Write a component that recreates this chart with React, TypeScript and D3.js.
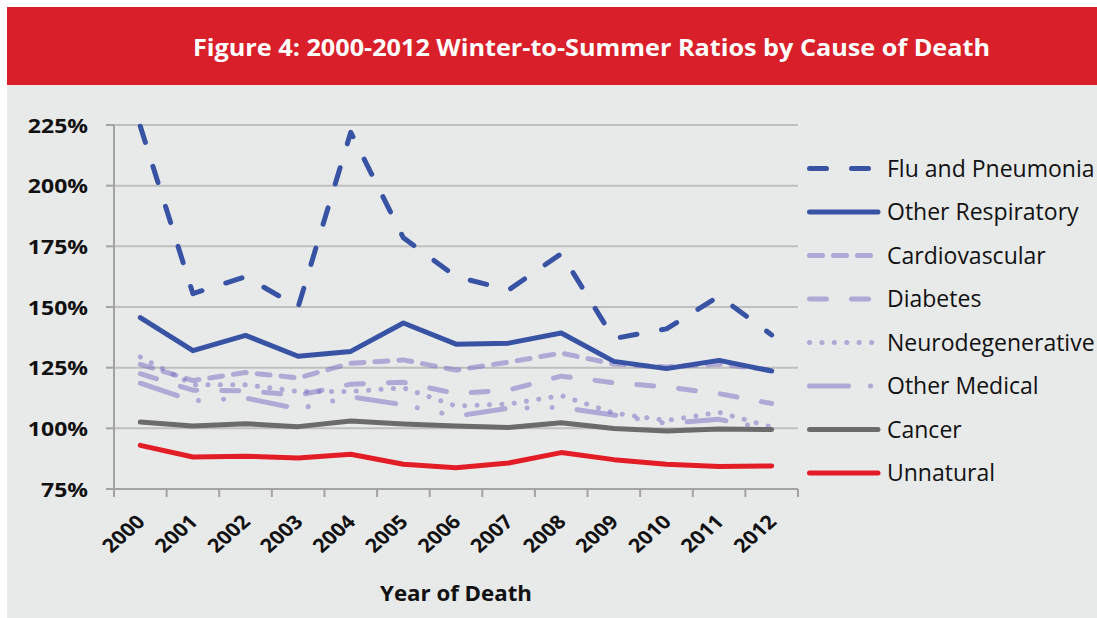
import React, { useEffect, useRef } from "react";
import * as d3 from "d3";

const years = ["2000", "2001", "2002", "2003", "2004", "2005", "2006", "2007", "2008", "2009", "2010", "2011", "2012"];
const fluPneumonia = [224.5, 155.5, 162.5, 150, 222, 178.5, 162.5, 157, 172, 137, 141, 154.5, 138.5];
const otherRespiratory = [145.6, 132, 138.3, 129.7, 131.7, 143.4, 134.7, 135.1, 139.3, 127.6, 124.6, 128, 123.6];
const cardiovascular = [126.4, 119.7, 123, 120.8, 126.8, 128.2, 124, 127.3, 131, 126.5, 125.3, 126.5, 124];
const diabetes = [122.5, 115.7, 115.5, 113.6, 118.2, 119, 114.3, 115.8, 121.5, 118.8, 117, 114.3, 110.2];
const neurodegenerative = [129.4, 118, 118, 115.2, 115.2, 116.7, 109.2, 110, 113.5, 106.3, 103.2, 106.6, 100.5];
const otherMedical = [118.6, 111.3, 112.5, 108, 113, 109.7, 105, 108.3, 108.6, 105.5, 102, 103.7, 99.5];
const cancer = [102.6, 101, 101.9, 100.7, 103, 101.8, 101, 100.3, 102.3, 99.9, 98.9, 99.7, 99.5];
const unnatural = [93, 88.2, 88.5, 87.8, 89.3, 85.2, 83.8, 85.7, 90, 87.1, 85.2, 84.3, 84.5];
const yTicks = [75, 100, 125, 150, 175, 200, 225];

const title = "Figure 4: 2000-2012 Winter-to-Summer Ratios by Cause of Death";
const xTitle = "Year of Death";

const blue = "#3953a4";
const lilac = "#7b70c4";
const font = "'Open Sans', 'DejaVu Sans', sans-serif";

// legend order
const series = [
  { name: "Flu and Pneumonia", values: fluPneumonia, color: blue, dash: "17,25", opacity: 1 },
  { name: "Other Respiratory", values: otherRespiratory, color: blue, dash: null, opacity: 1 },
  { name: "Cardiovascular", values: cardiovascular, color: lilac, dash: "13,11", opacity: 0.52 },
  { name: "Diabetes", values: diabetes, color: lilac, dash: "17,25", opacity: 0.52 },
  { name: "Neurodegenerative", values: neurodegenerative, color: lilac, dash: "0.1,12.3", opacity: 0.52 },
  { name: "Other Medical", values: otherMedical, color: lilac, dash: "39,22,0.1,25,0.1,25", opacity: 0.52 },
  { name: "Cancer", values: cancer, color: "#6b6b6b", dash: null, opacity: 1 },
  { name: "Unnatural", values: unnatural, color: "#e31d26", dash: null, opacity: 1 },
];
// drawing order: lilac ones below, blue on top
const drawOrder = [2, 3, 4, 5, 6, 7, 1, 0];

function App() {
  const ref = useRef<SVGSVGElement>(null);

  useEffect(() => {
    drawChart();
  }, []);

  function drawChart() {
    const width = 1097;
    const height = 618;
    const svg = d3.select(ref.current);
    svg.selectAll("*").remove();

    svg.append("rect").attr("width", width).attr("height", height).attr("fill", "#ffffff");
    svg.append("rect").attr("x", 7).attr("y", 85).attr("width", width - 7).attr("height", height - 85).attr("fill", "#e8e9e9");
    svg.append("rect").attr("x", 7).attr("y", 7).attr("width", width - 7).attr("height", 78).attr("fill", "#d9202a");

    svg
      .append("text")
      .text(title)
      .attr("x", 591.5)
      .attr("y", 56)
      .attr("text-anchor", "middle")
      .attr("fill", "#ffffff")
      .attr("font-family", font)
      .attr("font-weight", "bold")
      .attr("font-size", "24px")
      .attr("textLength", 797)
      .attr("lengthAdjust", "spacingAndGlyphs");

    const left = 114;
    const right = 798;
    const x = d3.scaleBand().domain(years).range([left, right]).paddingInner(0).paddingOuter(0);
    const y = d3.scaleLinear().domain([75, 225]).range([489, 125]);
    const cx = (i: number) => (x(years[i]) as number) + x.bandwidth() / 2;

    // gridlines
    svg
      .append("g")
      .selectAll("line")
      .data(yTicks.filter((t) => t !== 75))
      .enter()
      .append("line")
      .attr("x1", left)
      .attr("x2", right)
      .attr("y1", (d) => y(d))
      .attr("y2", (d) => y(d))
      .attr("stroke", "#bfbfbf")
      .attr("stroke-width", 2);

    const axisColor = "#a3a3a3";
    // y axis + ticks
    svg.append("line").attr("x1", left).attr("x2", left).attr("y1", y(225)).attr("y2", 497).attr("stroke", axisColor).attr("stroke-width", 2);
    svg
      .append("g")
      .selectAll("line")
      .data(yTicks)
      .enter()
      .append("line")
      .attr("x1", 106)
      .attr("x2", left)
      .attr("y1", (d) => y(d))
      .attr("y2", (d) => y(d))
      .attr("stroke", axisColor)
      .attr("stroke-width", 2);

    // x axis + ticks at category boundaries
    svg.append("line").attr("x1", left).attr("x2", right).attr("y1", y(75)).attr("y2", y(75)).attr("stroke", axisColor).attr("stroke-width", 2);
    const bounds = years.map((yr) => x(yr) as number).concat([right]);
    svg
      .append("g")
      .selectAll("line")
      .data(bounds)
      .enter()
      .append("line")
      .attr("x1", (d) => d)
      .attr("x2", (d) => d)
      .attr("y1", y(75))
      .attr("y2", 497)
      .attr("stroke", axisColor)
      .attr("stroke-width", 2);

    // y labels
    svg
      .append("g")
      .selectAll("text")
      .data(yTicks)
      .enter()
      .append("text")
      .text((d) => d + "%")
      .attr("transform", (d) => `translate(88, ${y(d) + 7.5}) scale(1.15, 1)`)
      .attr("text-anchor", "end")
      .attr("fill", "#111111")
      .attr("font-family", font)
      .attr("font-weight", "bold")
      .attr("font-size", "20px");

    // x labels
    svg
      .append("g")
      .selectAll("text")
      .data(years)
      .enter()
      .append("text")
      .text((d) => d)
      .attr("transform", (_, i) => `translate(${cx(i) + 6}, 523) scale(1.14, 1) rotate(-45)`)
      .attr("text-anchor", "end")
      .attr("fill", "#111111")
      .attr("font-family", font)
      .attr("font-weight", "bold")
      .attr("font-size", "19px");

    svg
      .append("text")
      .text(xTitle)
      .attr("x", 456)
      .attr("y", 601)
      .attr("text-anchor", "middle")
      .attr("fill", "#111111")
      .attr("font-family", font)
      .attr("font-weight", "bold")
      .attr("font-size", "21px")
      .attr("textLength", 152)
      .attr("lengthAdjust", "spacingAndGlyphs");

    const line = d3
      .line<number>()
      .x((_, i) => cx(i))
      .y((d) => y(d));

    drawOrder.forEach((k) => {
      const s = series[k];
      svg
        .append("path")
        .attr("d", line(s.values))
        .attr("fill", "none")
        .attr("stroke", s.color)
        .attr("stroke-opacity", s.opacity)
        .attr("stroke-width", 5)
        .attr("stroke-linecap", "round")
        .attr("stroke-linejoin", "round")
        .attr("stroke-dasharray", s.dash);
    });

    // legend
    const legend = svg
      .append("g")
      .selectAll("g")
      .data(series)
      .enter()
      .append("g")
      .attr("transform", (_, i) => `translate(0, ${168.5 + i * 43.5})`);

    legend
      .append("line")
      .attr("x1", 809.5)
      .attr("x2", 878)
      .attr("y1", 0)
      .attr("y2", 0)
      .attr("stroke", (d) => d.color)
      .attr("stroke-opacity", (d) => d.opacity)
      .attr("stroke-width", 5)
      .attr("stroke-linecap", "round")
      .attr("stroke-dasharray", (d) => d.dash);

    legend
      .append("text")
      .text((d) => d.name)
      .attr("x", 887)
      .attr("y", 8.3)
      .attr("fill", "#111111")
      .attr("font-family", font)
      .attr("font-size", "23px");
  }

  return <svg ref={ref} width={1097} height={618} style={{ position: "absolute", left: 0, top: 0 }} />;
}

export default App;
